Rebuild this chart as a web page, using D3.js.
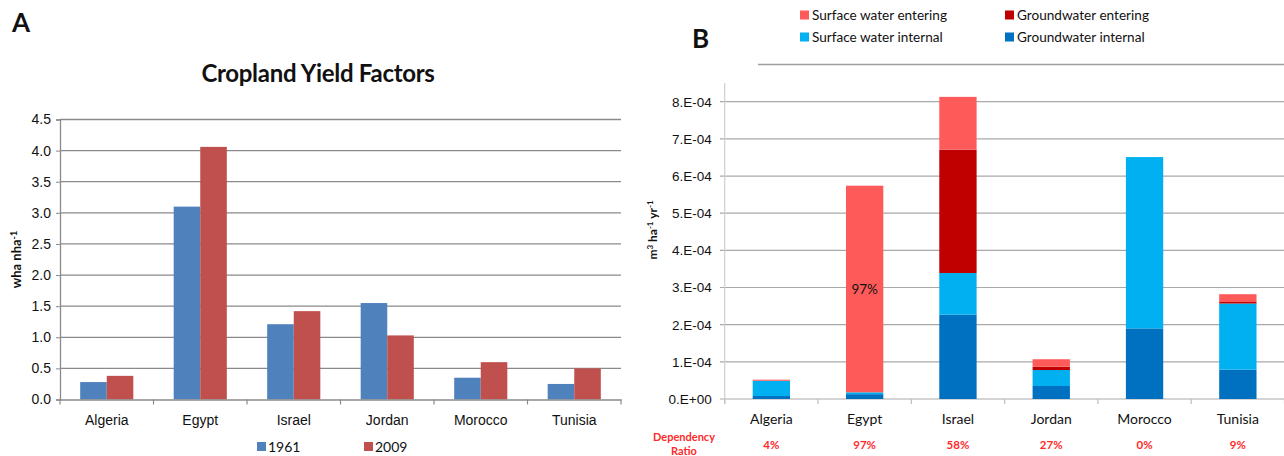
<!DOCTYPE html>
<html lang="en">
<head>
  <meta charset="UTF-8">
  <title>Cropland yield factors and water</title>
  <style>
    body {
      margin: 0;
      background: #fff;
      font-family: Lato, 'Open Sans', sans-serif;
    }
    svg text { fill: #111; }
    .grid-a line { stroke: #8a8a8a; stroke-width: 1.3; }
    .grid-b line { stroke: #a9a9a9; stroke-width: 1.2; }
  </style>
  <script src="https://d3js.org/d3.v7.min.js"></script>
</head>
<body>
  <svg id="fig" width="1284" height="456"></svg>

  <script>
    // ---- data ----
    const countries = ["Algeria", "Egypt", "Israel", "Jordan", "Morocco", "Tunisia"];

    // panel A : cropland yield factors (wha nha-1)
    const years = ["1961", "2009"];
    const yield1961 = [0.28, 3.10, 1.21, 1.55, 0.35, 0.25];
    const yield2009 = [0.38, 4.06, 1.42, 1.03, 0.60, 0.50];
    const yieldTicks = [0, 0.5, 1.0, 1.5, 2.0, 2.5, 3.0, 3.5, 4.0, 4.5];

    // panel B : water (m3 ha-1 yr-1), stacked bottom -> top
    const gwInternal = [0.08e-4, 0.13e-4, 2.27e-4, 0.35e-4, 1.90e-4, 0.79e-4];
    const swInternal = [0.41e-4, 0.05e-4, 1.12e-4, 0.43e-4, 4.61e-4, 1.78e-4];
    const gwEntering = [0.00e-4, 0.00e-4, 3.32e-4, 0.09e-4, 0.00e-4, 0.04e-4];
    const swEntering = [0.03e-4, 5.56e-4, 1.42e-4, 0.20e-4, 0.00e-4, 0.21e-4];
    const dependency = ["4%", "97%", "58%", "27%", "0%", "9%"];
    const waterTicks = [0, 1e-4, 2e-4, 3e-4, 4e-4, 5e-4, 6e-4, 7e-4, 8e-4];

    const svg = d3.select("#fig");

    // ================= panel A =================
    const colA = { "1961": "#4f81bd", "2009": "#c0504d" };
    const a = svg.append("g");

    a.append("text").attr("x", 12).attr("y", 32)
      .attr("font-size", 26).attr("font-weight", "bold").text("A");

    a.append("text").attr("x", 318).attr("y", 82)
      .attr("text-anchor", "middle").attr("font-size", 24).attr("font-weight", "bold")
      .attr("letter-spacing", -0.3)
      .text("Cropland Yield Factors");

    const xA = d3.scaleBand().domain(countries).range([60, 621]);
    const xA1 = d3.scaleBand().domain(years).range([0, xA.bandwidth()]).paddingOuter(0.76);
    const yA = d3.scaleLinear().domain([0, 4.5]).range([399.5, 119.5]);

    a.append("g").attr("class", "grid-a")
      .selectAll("line").data(yieldTicks.slice(1)).join("line")
      .attr("x1", 60).attr("x2", 621)
      .attr("y1", d => yA(d)).attr("y2", d => yA(d));

    const axisYA = a.append("g").attr("transform", "translate(60,0)")
      .call(d3.axisLeft(yA).tickValues(yieldTicks).tickFormat(d3.format(".1f")).tickSize(4).tickPadding(5));
    axisYA.select(".domain").attr("stroke", "#8a8a8a").attr("stroke-width", 1.3);
    axisYA.selectAll(".tick line").attr("stroke", "#8a8a8a");
    axisYA.selectAll("text").attr("font-size", 14).attr("fill", "#111");

    const rowsA = countries.map((c, i) => ({ c, v: { "1961": yield1961[i], "2009": yield2009[i] } }));
    a.append("g").selectAll("g").data(rowsA).join("g")
      .attr("transform", d => `translate(${xA(d.c)},0)`)
      .selectAll("rect").data(d => years.map(y => ({ y, v: d.v[y] }))).join("rect")
      .attr("x", d => xA1(d.y)).attr("width", xA1.bandwidth())
      .attr("y", d => yA(d.v)).attr("height", d => yA(0) - yA(d.v))
      .attr("fill", d => colA[d.y]);

    const axisXA = a.append("g").attr("transform", `translate(0,${yA(0)})`)
      .call(d3.axisBottom(xA).tickSize(0).tickPadding(16));
    axisXA.select(".domain").attr("stroke", "#8a8a8a").attr("stroke-width", 1.3);
    axisXA.selectAll("text").attr("font-size", 14).attr("fill", "#111");
    // separators between categories
    a.append("g").selectAll("line").data(countries.concat(["_end"])).join("line")
      .attr("x1", (d, i) => 60 + i * xA.step()).attr("x2", (d, i) => 60 + i * xA.step())
      .attr("y1", yA(0)).attr("y2", yA(0) + 5)
      .attr("stroke", "#8a8a8a").attr("stroke-width", 1.2);

    a.append("text")
      .attr("transform", `translate(21,${(yA(0) + yA(4.5)) / 2}) rotate(-90)`)
      .attr("text-anchor", "middle").attr("font-size", 13).attr("font-weight", "bold")
      .html('wha nha<tspan dy="-4" font-size="9">-1</tspan>');

    const legA = a.append("g").selectAll("g").data(years).join("g")
      .attr("transform", (d, i) => `translate(${257 + i * 107},447)`);
    legA.append("rect").attr("x", 0).attr("y", -5).attr("width", 9).attr("height", 9)
      .attr("fill", d => colA[d]);
    legA.append("text").attr("x", 11).attr("y", 5).attr("font-size", 14).text(d => d);

    // ================= panel B =================
    const b = svg.append("g");
    const keysB = ["gwInternal", "swInternal", "gwEntering", "swEntering"];
    const colB = {
      swEntering: "#ff5a5a", gwEntering: "#c00000",
      swInternal: "#00b0f0", gwInternal: "#0070c0"
    };
    const labelsB = {
      swEntering: "Surface water entering", gwEntering: "Groundwater entering",
      swInternal: "Surface water internal", gwInternal: "Groundwater internal"
    };

    b.append("text").attr("x", 692).attr("y", 48)
      .attr("font-size", 26).attr("font-weight", "bold").text("B");

    const legOrder = ["swEntering", "gwEntering", "swInternal", "gwInternal"];
    const legB = b.append("g").selectAll("g").data(legOrder).join("g")
      .attr("transform", (d, i) => `translate(${i % 2 ? 1005 : 800},${i < 2 ? 15 : 37})`);
    legB.append("rect").attr("x", 0).attr("y", -4.5).attr("width", 9).attr("height", 9)
      .attr("fill", d => colB[d]);
    legB.append("text").attr("x", 12).attr("y", 5).attr("font-size", 13.6).text(d => labelsB[d]);

    b.append("line").attr("x1", 758).attr("x2", 1284).attr("y1", 64.5).attr("y2", 64.5)
      .attr("stroke", "#a0a0a0").attr("stroke-width", 1.3);

    const xB = d3.scaleBand().domain(countries).range([724.7, 1284.5]).paddingInner(0.6).paddingOuter(0.3);
    const yB = d3.scaleLinear().domain([0, 8e-4]).range([399, 101.7]);

    const fmtE = v => {
      if (v === 0) return "0.E+00";
      const e = Math.floor(Math.log10(v) + 1e-9);
      const m = Math.round(v / Math.pow(10, e));
      return m + ".E" + (e < 0 ? "-" : "+") + String(Math.abs(e)).padStart(2, "0");
    };

    b.append("g").attr("class", "grid-b")
      .selectAll("line").data(waterTicks).join("line")
      .attr("x1", 720).attr("x2", 1284)
      .attr("y1", d => yB(d)).attr("y2", d => yB(d));

    b.append("line").attr("x1", 724.7).attr("x2", 724.7).attr("y1", 83).attr("y2", 404)
      .attr("stroke", "#cfcfcf").attr("stroke-width", 1.2);

    b.append("g").attr("transform", "translate(724.7,0)")
      .call(d3.axisLeft(yB).tickValues(waterTicks).tickFormat(fmtE).tickSize(0).tickPadding(13))
      .call(g => g.select(".domain").remove())
      .selectAll("text").attr("font-size", 13.5).attr("fill", "#111");

    const rowsB = countries.map((c, i) => ({
      c, gwInternal: gwInternal[i], swInternal: swInternal[i],
      gwEntering: gwEntering[i], swEntering: swEntering[i]
    }));
    const stackB = d3.stack().keys(keysB)(rowsB);

    b.append("g").selectAll("g").data(stackB).join("g")
      .attr("fill", d => colB[d.key])
      .selectAll("rect").data(d => d).join("rect")
      .attr("x", d => xB(d.data.c)).attr("width", xB.bandwidth())
      .attr("y", d => yB(d[1])).attr("height", d => yB(d[0]) - yB(d[1]));

    // label inside Egypt bar
    b.append("text")
      .attr("x", xB("Egypt") + xB.bandwidth() / 2).attr("y", 294)
      .attr("text-anchor", "middle").attr("font-size", 13.5).attr("fill", "#333")
      .text(dependency[1]);

    b.append("g").selectAll("line").data(countries.concat(["_end"])).join("line")
      .attr("x1", (d, i) => 724.7 + i * xB.step()).attr("x2", (d, i) => 724.7 + i * xB.step())
      .attr("y1", yB(0)).attr("y2", yB(0) + 5)
      .attr("stroke", "#bdbdbd").attr("stroke-width", 1.2);

    const cx = c => xB(c) + xB.bandwidth() / 2;
    b.append("g").selectAll("text").data(countries).join("text")
      .attr("x", cx).attr("y", 424).attr("text-anchor", "middle")
      .attr("font-size", 14).text(d => d);

    b.append("g").selectAll("text").data(dependency).join("text")
      .attr("x", (d, i) => cx(countries[i])).attr("y", 449).attr("text-anchor", "middle")
      .attr("font-size", 11.5).attr("font-weight", "bold").style("fill", "#ff2a2a").text(d => d);

    b.append("text").attr("x", 684).attr("y", 441).attr("text-anchor", "middle")
      .attr("font-size", 11).attr("font-weight", "bold").style("fill", "#ff2a2a").text("Dependency");
    b.append("text").attr("x", 684).attr("y", 455).attr("text-anchor", "middle")
      .attr("font-size", 11).attr("font-weight", "bold").style("fill", "#ff2a2a").text("Ratio");

    b.append("text")
      .attr("transform", `translate(657,230) rotate(-90)`)
      .attr("text-anchor", "middle").attr("font-size", 12).attr("font-weight", "bold")
      .html('m<tspan dy="-4" font-size="8">3</tspan><tspan dy="4"> ha</tspan><tspan dy="-4" font-size="8">-1</tspan><tspan dy="4"> yr</tspan><tspan dy="-4" font-size="8">-1</tspan>');
  </script>
</body>
</html>
